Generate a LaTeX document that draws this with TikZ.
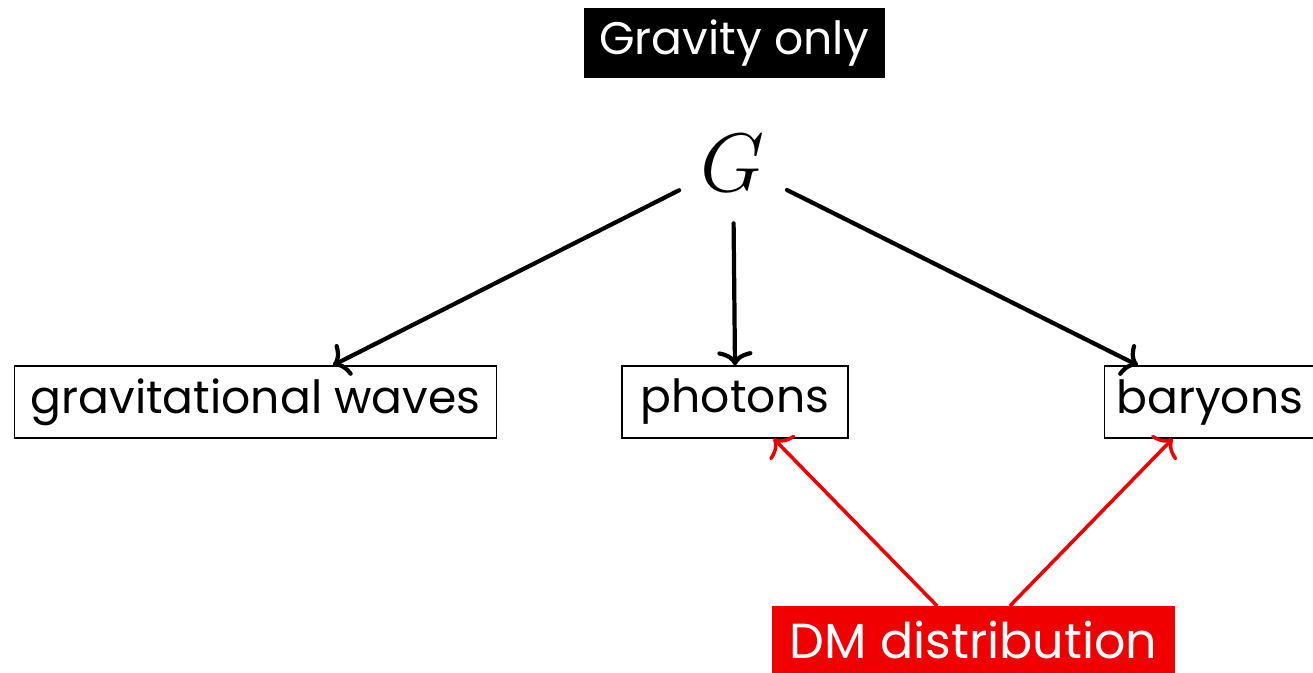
\documentclass[tikz,border=0pt]{standalone}
\usepackage{graphicx}
\usepackage{fontspec}
\setmainfont{Poppins}
\usetikzlibrary{arrows.meta,positioning,calc}
\definecolor{dmred}{RGB}{240,0,0}

\begin{document}
\begin{tikzpicture}[x=0.02cm,y=-0.02cm,
  every node/.style={font=\fontsize{26}{31}\selectfont},
  partbox/.style={draw=black,line width=0.8pt,fill=white,inner sep=0pt,minimum height=1.44cm},
  tagbox/.style={fill=#1,inner sep=0pt,minimum height=1.4cm},
  gravarr/.style={-{To[length=8pt,width=20pt]},line width=2.4pt,line cap=round},
  dmarr/.style={-{To[length=8pt,width=20pt]},line width=2pt,dmred}]
\useasboundingbox (0,0) rectangle (1313,673);
% source and coupling
\node[tagbox=black,text=white,minimum width=6.02cm] (grav) at (734.5,43) {Gravity only};
\node[circle,minimum size=2.4cm,inner sep=0pt] (G) at (733,163) {\scalebox{1.9}{$G$}};
% tracers
\node[partbox,minimum width=9.64cm,anchor=west] (gw) at (14,402) {gravitational waves};
\node[partbox,minimum width=4.52cm] (ph) at (735,402) {photons};
\node[partbox,minimum width=4.2cm,anchor=west] (bar) at (1104,402) {baryons};
\node[tagbox=dmred,text=white,minimum width=8.06cm,minimum height=1.34cm,anchor=north,
  font=\fontsize{28}{33}\selectfont] (dm) at (973.5,606) {DM distribution};
% gravity arrows
\draw[gravarr] (G) -- ($(gw.north)!0.32!(gw.north east)$);
\draw[gravarr] (G) -- (ph.north);
\draw[gravarr] (G) -- ($(bar.north)!0.68!(bar.north west)$);
% dark matter arrows
\draw[dmarr] ($(dm.north)!0.18!(dm.north west)$) -- ($(ph.south)!0.34!(ph.south east)$);
\draw[dmarr] ($(dm.north)!0.18!(dm.north east)$) -- ($(bar.south)!0.35!(bar.south west)$);
\end{tikzpicture}
\end{document}
